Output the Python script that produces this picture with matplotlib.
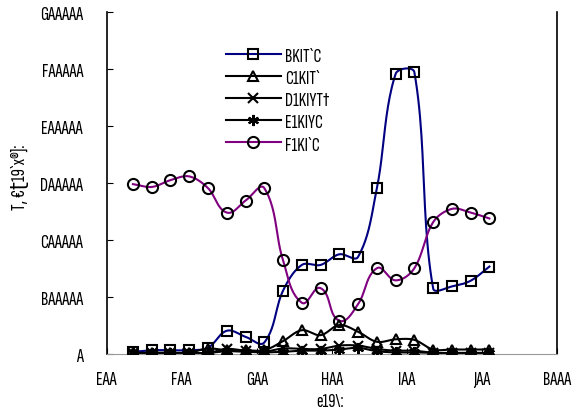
import numpy as np
import matplotlib
matplotlib.use("Agg")
import matplotlib.pyplot as plt

# ---- data ----
x_vals = [435, 460, 485, 510, 535, 560, 585, 610, 635, 660,
          685, 710, 735, 760, 785, 810, 835, 860, 885, 910]
series_B = [3000, 5800, 5800, 5800, 10000, 40000, 29400, 19400, 110600, 155800,
            155800, 174600, 170000, 290500, 492000, 495000, 114600, 118000, 128000, 153000]
series_C = [1000, 1500, 1500, 1500, 8800, 5800, 5800, 5800, 21700, 41000,
            32300, 50000, 38300, 20600, 25000, 24000, 7000, 7000, 7000, 7000]
series_D = [500, 500, 500, 500, 1000, 8000, 5000, 3000, 9000, 8000,
            8000, 14000, 14000, 8000, 5000, 5000, 1000, 1000, 1000, 1000]
series_E = [500, 500, 500, 500, 1000, 4000, 3000, 2000, 3000, 5000,
            5000, 7000, 10000, 4000, 2000, 2000, 1000, 1000, 1000, 1000]
series_F = [298000, 293000, 305000, 311600, 291000, 248000, 269000, 291000, 164000, 89400,
            115000, 57700, 87000, 150000, 128700, 150000, 231000, 254500, 248000, 237600]
labels = ["BKIT`C", "C1KIT`", "D1KIYT\u2020", "E1KIYC", "F1KI`C"]
x_ticks = [400, 500, 600, 700, 800, 900, 1000]
x_ticklabels = ["EAA", "FAA", "GAA", "HAA", "IAA", "JAA", "BAAA"]
y_ticks = [0, 100000, 200000, 300000, 400000, 500000, 600000]
y_ticklabels = ["A", "BAAAAA", "CAAAAA", "DAAAAA", "EAAAAA", "FAAAAA", "GAAAAA"]
x_label = "e19\\:"
y_label = "T, \u20ac\u028819`x\u00ae]:"

plt.rcParams['font.family'] = ["Sofia Sans Extra Condensed", "DejaVu Sans"]
FS = 14.5

XMIN, XMAX, YMIN, YMAX = 400, 1000, 0, 600000
AX_W, AX_H = 450.0, 341.0


def smooth(xs, ys, n=24, s=0.33):
    # length-weighted Bezier smoothing in screen space (spreadsheet-style smoothed line)
    px = (np.asarray(xs, float) - XMIN) / (XMAX - XMIN) * AX_W
    py = (np.asarray(ys, float) - YMIN) / (YMAX - YMIN) * AX_H
    P = np.column_stack([px, py])
    m = len(P)
    T = np.zeros_like(P)
    for i in range(m):
        a = P[max(i - 1, 0)]
        b = P[min(i + 1, m - 1)]
        d = b - a
        T[i] = d / (np.hypot(*d) + 1e-12)
    t = np.linspace(0, 1, n, endpoint=False)[:, None]
    out = []
    for i in range(m - 1):
        L = np.hypot(*(P[i + 1] - P[i]))
        c0 = P[i]
        c1 = P[i] + T[i] * L * s
        c2 = P[i + 1] - T[i + 1] * L * s
        c3 = P[i + 1]
        out.append((1 - t) ** 3 * c0 + 3 * (1 - t) ** 2 * t * c1 + 3 * (1 - t) * t ** 2 * c2 + t ** 3 * c3)
    out.append(P[-1][None, :])
    C = np.vstack(out)
    return C[:, 0] / AX_W * (XMAX - XMIN) + XMIN, C[:, 1] / AX_H * (YMAX - YMIN) + YMIN


fig = plt.figure(figsize=(5.85, 4.14), dpi=100)
ax = fig.add_axes([0.1824, 0.1437, 0.7696, 0.8237])

styles = [
    (series_B, "#000080", "s", 6.5),
    (series_C, "black", "^", 7),
    (series_D, "black", "x", 7),
    (series_E, "black", (6, 2, 0), 8),
    (series_F, "#800080", "o", 8),
]
handles = []
for (ys, col, mk, ms), lab in zip(styles, labels):
    sx, sy = smooth(x_vals, ys)
    ax.plot(sx, sy, color=col, lw=1.5, zorder=2)
    ax.plot(x_vals, ys, ls="none", marker=mk, ms=ms, mfc="none", mec="black", mew=1.5, zorder=3)
    h, = ax.plot([], [], color=col, lw=1.5, marker=mk, ms=ms, mfc="none", mec="black", mew=1.5)
    handles.append(h)

ax.set_xlim(XMIN, XMAX)
ax.set_ylim(YMIN, YMAX)
ax.set_xticks(x_ticks)
ax.set_xticklabels(x_ticklabels)
ax.set_yticks(y_ticks)
ax.set_yticklabels(y_ticklabels)
ax.tick_params(axis="both", direction="in", length=4, labelsize=FS, colors="black")
ax.tick_params(axis="x", pad=12)
ax.tick_params(axis="y", pad=17)
ax.spines["top"].set_visible(False)
ax.spines["bottom"].set_color("#999999")
for s_ in ("left", "right"):
    ax.spines[s_].set_linewidth(1.2)
ax.set_xlabel(x_label, fontsize=FS)
ax.set_ylabel(y_label, fontsize=FS)
ax.xaxis.set_label_coords(0.497, -0.138)
ax.xaxis.label.set_va("center")
ax.yaxis.set_label_coords(-0.193, 0.52)
ax.yaxis.label.set_va("center")

leg = ax.legend(handles, labels, loc="upper left", bbox_to_anchor=(0.355, 0.928),
                bbox_transform=fig.transFigure, frameon=False, fontsize=FS,
                handlelength=2.75, handletextpad=0.2, labelspacing=0.2)

fig.savefig("out.png", dpi=100)
